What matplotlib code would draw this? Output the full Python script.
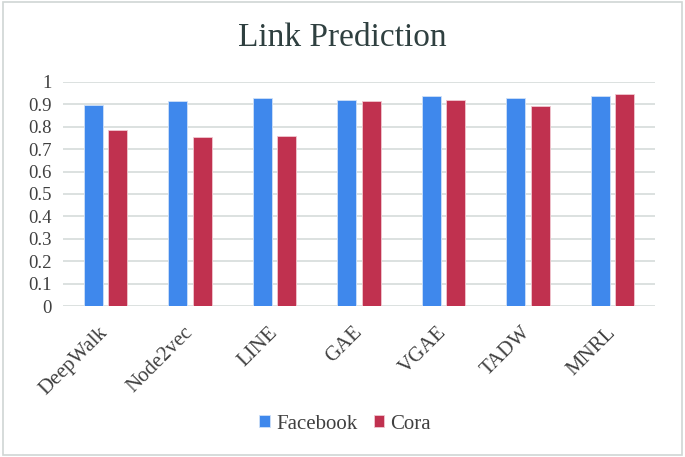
import matplotlib.pyplot as plt
import numpy as np
from matplotlib.patches import Rectangle

methods = ["DeepWalk", "Node2vec", "LINE", "GAE", "VGAE", "TADW", "MNRL"]
facebook = [0.896, 0.915, 0.929, 0.921, 0.936, 0.929, 0.936]
cora = [0.783, 0.754, 0.759, 0.915, 0.921, 0.893, 0.944]
yticks = [0, 0.1, 0.2, 0.3, 0.4, 0.5, 0.6, 0.7, 0.8, 0.9, 1]
ylabels = ["0", "0.1", "0.2", "0.3", "0.4", "0.5", "0.6", "0.7", "0.8", "0.9", "1"]

fig = plt.figure(figsize=(6.85, 4.57), dpi=100)
ax = fig.add_axes([0.092, 0.330, 0.864, 0.491])

x = np.arange(len(methods))
w = 0.225
ax.bar(x - 0.145, facebook, w, color="#3F88EC", edgecolor="#cfe0f8", linewidth=0.6, label="Facebook", zorder=3)
ax.bar(x + 0.145, cora, w, color="#C0314F", edgecolor="#f0c8d0", linewidth=0.6, label="Cora", zorder=3)

ax.set_xlim(-0.5, len(methods) - 0.5)
ax.set_ylim(0, 1)
ax.set_yticks(yticks)
ax.set_yticklabels(ylabels, family="Liberation Serif", fontsize=13.5, color="#404040")
ax.set_xticks(x)
ax.set_xticklabels(methods, family="Liberation Serif", fontsize=15, color="#404040",
                   rotation=45, ha="right", va="center", rotation_mode="anchor")
ax.tick_params(axis="x", length=0, pad=17)
ax.tick_params(axis="y", length=0, pad=8)
ax.grid(axis="y", color="#d6dcda", linewidth=1.2, zorder=0)
for s in ax.spines.values():
    s.set_visible(False)

fig.text(0.5, 0.917, "Link Prediction", ha="center", va="center",
         family="Liberation Serif", fontsize=24, color="#2f4040")

fig.legend(loc="center", bbox_to_anchor=(0.504, 0.072), ncol=2, frameon=False,
           prop={"family": "Liberation Serif", "size": 15}, handlelength=0.5,
           handleheight=0.5, handletextpad=0.3, columnspacing=0.8,
           labelcolor="#404040")

fig.patches.append(Rectangle((0.004, 0.004), 0.992, 0.992, transform=fig.transFigure,
                             fill=False, edgecolor="#d0d6d4", linewidth=1.2))

fig.savefig("out.png", dpi=100)
